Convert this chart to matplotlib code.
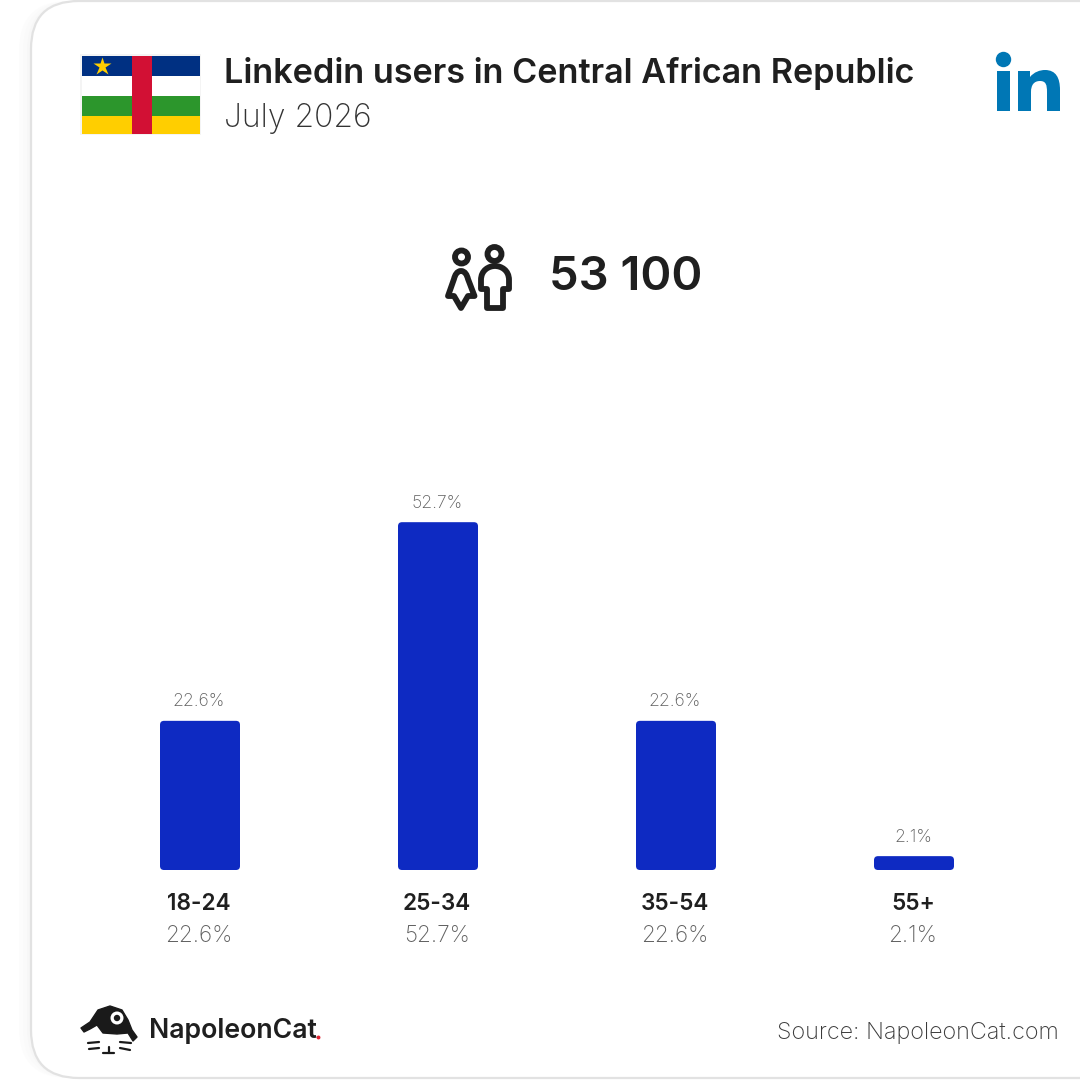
import matplotlib
matplotlib.use("Agg")
import matplotlib.pyplot as plt
from matplotlib.patches import FancyBboxPatch, Rectangle, Circle, Polygon, PathPatch
from matplotlib.path import Path

plt.rcParams['font.family'] = ['Inter', 'Lato', 'DejaVu Sans']

# DATA
age_groups = ["18-24", "25-34", "35-54", "55+"]
shares = [22.6, 52.7, 22.6, 2.1]
total_users = "53 100"
title = "Linkedin users in Central African Republic"
subtitle = "July 2026"
source = "Source: NapoleonCat.com"

BAR = "#0e2ac2"
INK = "#1f1f1f"
GREY = "#5f5f5f"

fig = plt.figure(figsize=(10.8, 10.8), dpi=100)

# background layer in pixel coords, y goes down like in the picture
bg = fig.add_axes([0, 0, 1, 1])
bg.set_xlim(0, 1080)
bg.set_ylim(1080, 0)
bg.axis("off")

# card shadow + card
for i, c in enumerate(["#fcfcfc", "#fafafa", "#f7f7f7"]):
    grow = 12 - i * 4
    bg.add_patch(FancyBboxPatch((31 - grow, 1), 1200, 1077,
                                boxstyle="round,pad=0,rounding_size=50", fc=c, ec="none"))
bg.add_patch(FancyBboxPatch((31, 1), 1200, 1077, boxstyle="round,pad=0,rounding_size=48",
                            fc="white", ec="#e2e2e2", lw=1.6))

# flag
bg.add_patch(Rectangle((80, 54), 121, 81, fc="#f4f4f4", ec="none"))
bg.add_patch(Rectangle((82, 56), 118, 20, fc="#003082", ec="none"))
bg.add_patch(Rectangle((82, 76), 118, 20, fc="white", ec="none"))
bg.add_patch(Rectangle((82, 96), 118, 20, fc="#2c962c", ec="none"))
bg.add_patch(Rectangle((82, 116), 118, 18, fc="#ffce00", ec="none"))
bg.add_patch(Rectangle((132, 56), 20, 78, fc="#d21034", ec="none"))
bg.plot([102], [66], marker="*", ms=13.5, mfc="#ffce00", mec="none")

# linkedin logo
LI = "#0077b5"
bg.add_patch(Circle((1003.5, 59.5), 7.7, fc=LI, ec="none"))
bg.add_patch(Rectangle((997, 71), 13, 40, fc=LI, ec="none"))
n_verts = [(1018, 111), (1018, 71), (1030, 71), (1030, 77), (1034, 72), (1040, 70), (1045, 70),
           (1056, 70), (1060, 78), (1060, 90), (1060, 111), (1047, 111), (1047, 92),
           (1047, 85), (1046, 81), (1040, 81), (1034, 81), (1031, 85), (1031, 92),
           (1031, 111), (1018, 111)]
n_codes = [Path.MOVETO, Path.LINETO, Path.LINETO, Path.LINETO, Path.CURVE4, Path.CURVE4, Path.CURVE4,
           Path.CURVE4, Path.CURVE4, Path.CURVE4, Path.LINETO, Path.LINETO, Path.LINETO,
           Path.CURVE4, Path.CURVE4, Path.CURVE4, Path.CURVE4, Path.CURVE4, Path.CURVE4,
           Path.LINETO, Path.CLOSEPOLY]
bg.add_patch(PathPatch(Path(n_verts, n_codes), fc=LI, ec="none"))

# title block
bg.text(224, 74, title, fontsize=24.6, fontweight="semibold", color=INK, va="center", ha="left")
bg.text(224, 118, subtitle, fontsize=23, fontweight="light", color="#333333", va="center", ha="left")

# people icon
lw_icon = 4.2
bg.add_patch(Circle((461.5, 257), 6.5, fc="none", ec=INK, lw=lw_icon))
bg.add_patch(Circle((494.5, 254), 7, fc="none", ec=INK, lw=lw_icon))
woman_v = [(461, 271), (465, 271), (467, 275), (468, 279), (474.5, 296), (468, 296), (461, 308),
           (454, 296), (448, 296), (454, 279), (455, 275), (457, 271), (461, 271), (461, 271)]
woman_c = [Path.MOVETO, Path.CURVE4, Path.CURVE4, Path.CURVE4, Path.LINETO, Path.LINETO, Path.LINETO,
           Path.LINETO, Path.LINETO, Path.LINETO, Path.CURVE4, Path.CURVE4, Path.CURVE4, Path.CLOSEPOLY]
bg.add_patch(PathPatch(Path(woman_v, woman_c), fc="none", ec=INK, lw=lw_icon, joinstyle="round"))
man_v = [(503, 308), (503, 289), (509, 289), (509, 280), (509, 270), (501, 266), (495, 266),
         (489, 266), (481, 270), (481, 280), (481, 289), (487, 289), (487, 308), (503, 308)]
man_c = [Path.MOVETO, Path.LINETO, Path.LINETO, Path.LINETO, Path.CURVE4, Path.CURVE4, Path.CURVE4,
         Path.CURVE4, Path.CURVE4, Path.CURVE4, Path.LINETO, Path.LINETO, Path.LINETO, Path.CLOSEPOLY]
bg.add_patch(PathPatch(Path(man_v, man_c), fc="none", ec=INK, lw=lw_icon, joinstyle="round"))

bg.text(549, 278, total_users, fontsize=33.9, fontweight="semibold", color=INK, va="center", ha="left")

# bars
ax = fig.add_axes([81 / 1080, (1080 - 870) / 1080, 952 / 1080, 396 / 1080])
ax.patch.set_alpha(0)
ax.set_xlim(-0.5, 3.5)
ax.set_ylim(0, 60)
ax.axis("off")

x_px = 238.0
y_px = 396 / 60
bar_w = 80 / x_px
for i, v in enumerate(shares):
    ax.add_patch(FancyBboxPatch((i - bar_w / 2, 0), bar_w, v,
                                boxstyle=f"round,pad=0,rounding_size={4 / x_px}",
                                mutation_aspect=x_px / y_px, fc=BAR, ec="none"))
    ax.annotate(f"{v}%", (i, v), xytext=(-0.7, 7.5), textcoords="offset points", ha="center", va="bottom",
                fontsize=12.6, fontweight="light", color=GREY)
    ax.annotate(age_groups[i], (i, 0), xytext=(-0.7, -24.5), textcoords="offset points", ha="center", va="center",
                fontsize=16.3, fontweight="semibold", color=INK)
    ax.annotate(f"{v}%", (i, 0), xytext=(-1, -47.5), textcoords="offset points", ha="center", va="center",
                fontsize=16.3, fontweight="light", color=GREY)

# napoleoncat logo
hat = [(81, 1028), (90, 1022), (98, 1010), (110, 1006), (122, 1010), (128, 1020), (132, 1030),
       (137, 1037), (133, 1041), (128, 1033), (117, 1034), (103, 1033), (97, 1025), (90, 1029), (84, 1032)]
bg.add_patch(Polygon(hat, closed=True, fc="#1a1a1a", ec="#1a1a1a", lw=1, joinstyle="round"))
bg.add_patch(Circle((117, 1018), 6.5, fc="white", ec="none"))
bg.add_patch(Circle((117, 1018), 3.2, fc="#1a1a1a", ec="none"))
for seg in [[(88, 1043), (99, 1042)], [(89, 1049), (99, 1048)], [(120, 1042), (131, 1043)],
            [(120, 1048), (130, 1050)], [(103, 1053), (114, 1053)], [(109, 1047), (109, 1053)]]:
    bg.plot(*zip(*seg), color="#1a1a1a", lw=1.6, solid_capstyle="round")
bg.text(149, 1031, "NapoleonCat", fontsize=19.2, fontweight="semibold", color=INK, va="center", ha="left")
bg.plot([318], [1037], marker="o", ms=2.8, color="#e0202f", mec="none")

bg.text(1059, 1033, source, fontsize=16.8, fontweight="light", color="#3a3a3a", va="center", ha="right")

fig.savefig("out.png", dpi=100)
